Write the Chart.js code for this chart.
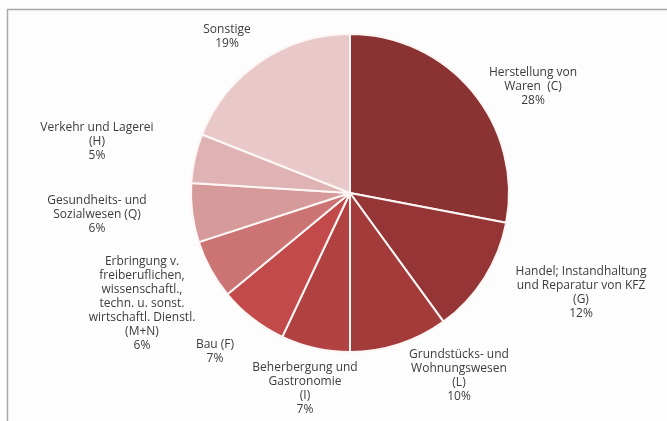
<!DOCTYPE html>
<html>
<head>
<meta charset="utf-8">
<script src="https://cdn.jsdelivr.net/npm/chart.js@4"></script>
<style>
  html, body { margin: 0; padding: 0; background: #fdfdfd; }
  #wrap { width: 667px; height: 421px; position: relative; }
</style>
</head>
<body>
<div id="wrap"><canvas id="chartPie"></canvas></div>
<script>
// Kategorien (Zeilen wie im Original umbrochen) und Anteile in %
const categories = [
  ["Herstellung von", "Waren  (C)"],
  ["Handel; Instandhaltung", "und Reparatur von KFZ", "(G)"],
  ["Grundstücks- und", "Wohnungswesen", "(L)"],
  ["Beherbergung und", "Gastronomie", "(I)"],
  ["Bau (F)"],
  ["Erbringung v.", "freiberuflichen,", "wissenschaftl.,", "techn. u. sonst.", "wirtschaftl. Dienstl.", "(M+N)"],
  ["Gesundheits- und", "Sozialwesen (Q)"],
  ["Verkehr und Lagerei", "(H)"],
  ["Sonstige"],
];
const shares = [28, 12, 10, 7, 7, 6, 6, 5, 19];

const sliceColors = [
  "#8b3232", "#953535", "#a33b3b", "#b24141", "#c24a4a",
  "#cc7474", "#d69a9a", "#dfb3b3", "#e8c8c8",
];

// Beschriftungs-Anker relativ zum Kreismittelpunkt (Mitte der ersten Zeile)
const labelOffsets = [
  [183, -120], [231, 79], [109, 162], [-45, 175], [-135, 152],
  [-208, 69], [-253, 8], [-253, -65], [-123, -163],
];

const el = (id) => document.getElementById(id);

const framePlugin = {
  id: "frame",
  beforeDraw(chart) {
    const c = chart.ctx;
    c.save();
    c.strokeStyle = "#a9a9a9";
    c.lineWidth = 1.5;
    c.beginPath();
    c.moveTo(7.5, chart.height);
    c.lineTo(7.5, 9.5);
    c.lineTo(chart.width, 9.5);
    c.stroke();
    c.restore();
  },
};

const labelPlugin = {
  id: "sliceLabels",
  afterDraw(chart) {
    const c = chart.ctx;
    const arcs = chart.getDatasetMeta(0).data;
    if (!arcs.length) return;
    const cx = arcs[0].x, cy = arcs[0].y;
    c.save();
    c.font = "12px 'Open Sans'";
    c.fillStyle = "#3c3c3c";
    c.textAlign = "center";
    c.textBaseline = "middle";
    categories.forEach((lines, i) => {
      const [dx, dy] = labelOffsets[i];
      const all = lines.concat([shares[i] + "%"]);
      all.forEach((t, j) => c.fillText(t, cx + dx, cy + dy + j * 14));
    });
    c.restore();
  },
};

function renderPie() {
  const ctx = el("chartPie").getContext("2d");
  new Chart(ctx, {
    type: "pie",
    data: {
      labels: categories.map((l) => l.join(" ")),
      datasets: [
        {
          data: shares,
          backgroundColor: sliceColors,
          borderColor: "#fdf6f4",
          borderWidth: 2,
        },
      ],
    },
    options: {
      responsive: true,
      maintainAspectRatio: false,
      animation: false,
      layout: { padding: { top: 32, bottom: 67, left: 190, right: 157 } },
      plugins: { legend: { display: false }, tooltip: { enabled: false } },
    },
    plugins: [framePlugin, labelPlugin],
  });
}

document.addEventListener("DOMContentLoaded", () => {
  renderPie();
});
</script>
</body>
</html>
